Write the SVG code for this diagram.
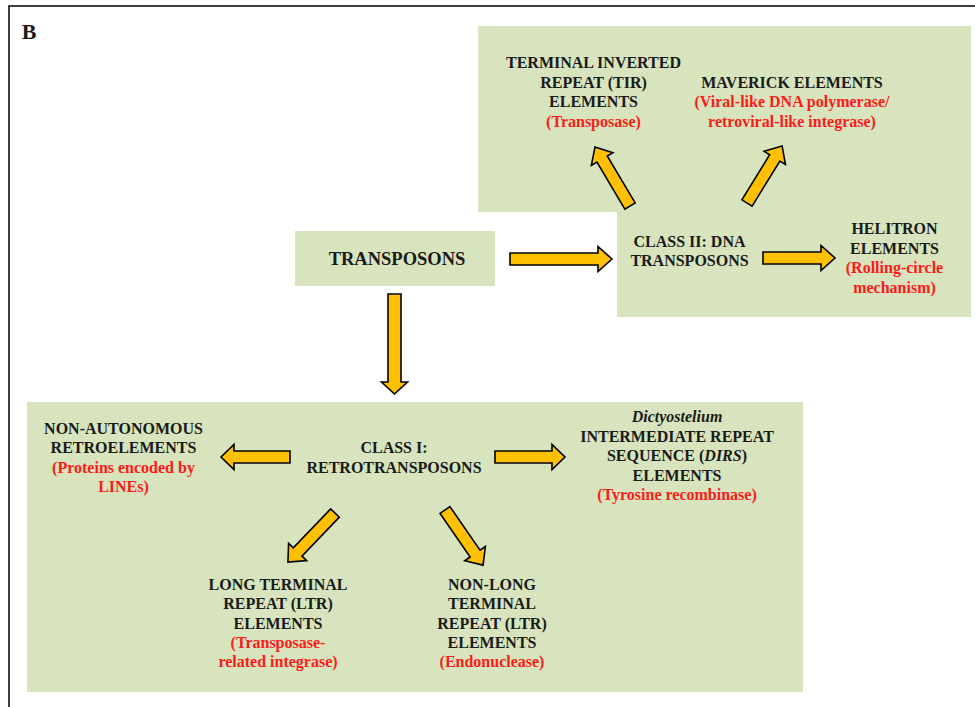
<svg xmlns="http://www.w3.org/2000/svg" width="975" height="707" viewBox="0 0 975 707">
<style>
text{font-family:"Liberation Serif","Times New Roman",serif;font-weight:bold;font-size:16px;text-anchor:middle;fill:#1a1a1a}
.r{fill:#ff1a1a}
.bg{fill:#d7e4bd}
.arr{fill:#ffc000;stroke:#000;stroke-width:1.6;stroke-linejoin:miter}
</style>
<rect x="9" y="6" width="1000" height="1000" fill="#fff" stroke="#000" stroke-width="1.5"/>
<text x="29" y="39" style="font-size:22px">B</text>
<g id="backgrounds">
<path class="bg" d="M478,26 H971 V317 H617 V212 H478 Z"/>
<rect class="bg" x="27" y="402" width="776" height="290"/>
</g>
<g id="transposons">
<rect class="bg" x="295" y="231" width="200" height="55"/>
<text x="397" y="265" style="font-size:18.5px">TRANSPOSONS</text>
</g>
<g id="class2">
<text x="689.5" y="246.7">CLASS II: DNA</text>
<text x="689.5" y="266">TRANSPOSONS</text>
</g>
<g id="tir">
<text x="593.5" y="68.3">TERMINAL INVERTED</text>
<text x="593.5" y="87.8">REPEAT (TIR)</text>
<text x="593.5" y="107.3">ELEMENTS</text>
<text class="r" x="593.5" y="126.8">(Transposase)</text>
</g>
<g id="maverick">
<text x="792" y="87.8">MAVERICK ELEMENTS</text>
<text class="r" x="792" y="107.3">(Viral-like DNA polymerase/</text>
<text class="r" x="792" y="126.8">retroviral-like integrase)</text>
</g>
<g id="helitron">
<text x="894.5" y="234">HELITRON</text>
<text x="894.5" y="253.5">ELEMENTS</text>
<text class="r" x="894.5" y="273">(Rolling-circle</text>
<text class="r" x="894.5" y="292.5">mechanism)</text>
</g>
<g id="class1">
<text x="394" y="453.3">CLASS I:</text>
<text x="394" y="472.5">RETROTRANSPOSONS</text>
</g>
<g id="nonautonomous">
<text x="123.5" y="433.5">NON-AUTONOMOUS</text>
<text x="123.5" y="453">RETROELEMENTS</text>
<text class="r" x="123.5" y="472.5">(Proteins encoded by</text>
<text class="r" x="123.5" y="492">LINEs)</text>
</g>
<g id="dirs">
<text x="677" y="422" style="font-style:italic">Dictyostelium</text>
<text x="677" y="441.5">INTERMEDIATE REPEAT</text>
<text x="677" y="461">SEQUENCE (<tspan style="font-style:italic">DIRS</tspan>)</text>
<text x="677" y="480.5">ELEMENTS</text>
<text class="r" x="677" y="500">(Tyrosine recombinase)</text>
</g>
<g id="ltr">
<text x="278" y="590">LONG TERMINAL</text>
<text x="278" y="609.3">REPEAT (LTR)</text>
<text x="278" y="628.6">ELEMENTS</text>
<text class="r" x="278" y="648">(Transposase-</text>
<text class="r" x="278" y="667">related integrase)</text>
</g>
<g id="nonltr">
<text x="492" y="590">NON-LONG</text>
<text x="492" y="609.3">TERMINAL</text>
<text x="492" y="628.6">REPEAT (LTR)</text>
<text x="492" y="648">ELEMENTS</text>
<text class="r" x="492" y="667">(Endonuclease)</text>
</g>
<g id="connectors">
<polygon class="arr" transform="translate(510,259)" points="0,-6 88,-6 88,-12.5 102,0 88,12.5 88,6 0,6"/>
<polygon class="arr" transform="translate(394.5,294) rotate(90)" points="0,-6.5 88,-6.5 88,-13 100,0 88,13 88,6.5 0,6.5"/>
<polygon class="arr" transform="translate(763,258)" points="0,-6 58,-6 58,-12.5 72,0 58,12.5 58,6 0,6"/>
<polygon class="arr" transform="translate(630,206) rotate(-120.7)" points="0,-6 54.6,-6 54.6,-12.5 68.6,0 54.6,12.5 54.6,6 0,6"/>
<polygon class="arr" transform="translate(747,203) rotate(-58.4)" points="0,-6 53,-6 53,-12.5 67,0 53,12.5 53,6 0,6"/>
<polygon class="arr" transform="translate(290,457) rotate(180)" points="0,-6 56,-6 56,-12.5 69,0 56,12.5 56,6 0,6"/>
<polygon class="arr" transform="translate(495,457)" points="0,-6 57,-6 57,-12.5 70,0 57,12.5 57,6 0,6"/>
<polygon class="arr" transform="translate(335,513) rotate(133.8)" points="0,-6 54,-6 54,-12.5 68,0 54,12.5 54,6 0,6"/>
<polygon class="arr" transform="translate(445,510) rotate(55.4)" points="0,-6 53,-6 53,-12.5 67,0 53,12.5 53,6 0,6"/>
</g>
</svg>
